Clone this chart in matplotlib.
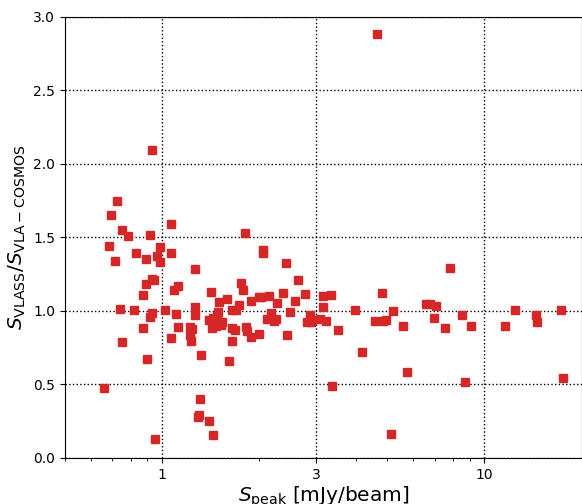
import matplotlib
matplotlib.use("Agg")
import matplotlib.pyplot as plt
from matplotlib.ticker import FixedLocator, FixedFormatter, NullFormatter

# Peak flux density (mJy/beam) and flux ratio VLASS / VLA-COSMOS
s_peak = [
    0.661, 0.686, 0.696, 0.715, 0.725, 0.739, 0.751, 0.753, 0.784, 0.821,
    0.833, 0.873, 0.875, 0.894, 0.894, 0.897, 0.916, 0.916, 0.931, 0.933,
    0.933, 0.946, 0.951, 0.967, 0.988, 0.988, 1.024, 1.064, 1.064, 1.069,
    1.089, 1.103, 1.121, 1.121, 1.219, 1.236, 1.224, 1.228, 1.268, 1.268,
    1.268, 1.305, 1.296, 1.309, 1.324, 1.396, 1.402, 1.422, 1.429, 1.436,
    1.442, 1.467, 1.481, 1.492, 1.506, 1.524, 1.535, 1.587, 1.617, 1.645,
    1.645, 1.652, 1.684, 1.700, 1.737, 1.754, 1.777, 1.813, 1.822, 1.831,
    1.881, 1.884, 1.995, 2.000, 2.024, 2.057, 2.057, 2.109, 2.139, 2.174,
    2.221, 2.258, 2.269, 2.378, 2.424, 2.437, 2.495, 2.576, 2.641, 2.771,
    2.807, 2.868, 2.899, 2.926, 3.097, 3.164, 3.164, 3.222, 3.337, 3.361,
    3.508, 3.978, 4.157, 4.587, 4.644, 4.795, 4.837, 4.942, 5.132, 5.217,
    5.605, 5.741, 6.576, 6.782, 6.962, 7.078, 7.533, 7.806, 8.542, 8.727,
    9.087, 11.56, 12.44, 14.46, 14.56, 17.25, 17.50,
]
ratio = [
    0.476, 1.440, 1.651, 1.342, 1.748, 1.014, 0.789, 1.551, 1.512, 1.005,
    1.393, 0.886, 1.107, 1.182, 1.356, 0.673, 1.519, 0.961, 2.095, 1.218,
    0.984, 1.209, 0.127, 1.374, 1.435, 1.333, 1.005, 1.393, 0.816, 1.590,
    1.141, 0.978, 1.172, 0.889, 0.893, 0.876, 0.839, 0.798, 1.284, 1.027,
    0.975, 0.290, 0.281, 0.399, 0.701, 0.254, 0.939, 1.127, 0.882, 0.159,
    0.950, 0.900, 0.966, 0.995, 1.061, 0.903, 0.927, 1.084, 0.658, 0.886,
    0.798, 1.005, 0.873, 1.005, 1.041, 1.188, 1.143, 1.531, 0.889, 0.867,
    1.071, 0.825, 1.095, 0.841, 1.097, 1.417, 1.395, 0.946, 1.105, 0.984,
    0.930, 0.944, 1.056, 1.122, 1.327, 0.835, 0.995, 1.068, 1.213, 1.118,
    0.925, 0.973, 0.925, 0.939, 0.947, 1.104, 1.024, 0.929, 1.109, 0.488,
    0.873, 1.009, 0.723, 0.930, 2.884, 1.124, 0.934, 0.939, 0.161, 0.999,
    0.898, 0.588, 1.050, 1.048, 0.950, 1.036, 0.882, 1.295, 0.971, 0.519,
    0.896, 0.896, 1.009, 0.975, 0.925, 1.009, 0.542,
]

x_ticks = [1, 3, 10]
x_tick_labels = ["1", "3", "10"]

fig = plt.figure(figsize=(5.82, 5.04), dpi=100)
ax = fig.add_axes([0.1117, 0.0913, 0.8875, 0.875])

ax.plot(s_peak, ratio, linestyle="none", marker="s", markersize=5.3,
        color="#d62728", markeredgecolor="#d62728")

ax.set_xscale("log")
ax.set_xlim(0.5, 20)
ax.set_ylim(0, 3)
ax.xaxis.set_major_locator(FixedLocator(x_ticks))
ax.xaxis.set_major_formatter(FixedFormatter(x_tick_labels))
ax.xaxis.set_minor_formatter(NullFormatter())
ax.set_yticks([0, 0.5, 1.0, 1.5, 2.0, 2.5, 3.0])
ax.set_yticklabels(["0.0", "0.5", "1.0", "1.5", "2.0", "2.5", "3.0"])
ax.tick_params(labelsize=10)

ax.grid(True, which="major", linestyle=":", color="black", linewidth=1)

ax.set_xlabel(r"$S_{\rm peak}$ [mJy/beam]", fontsize=14.5, labelpad=2)
ax.set_ylabel(r"$S_{\rm VLASS}/S_{\mathrm{VLA-COSMOS}}$", fontsize=14.5)

fig.savefig("out.png", dpi=100)
